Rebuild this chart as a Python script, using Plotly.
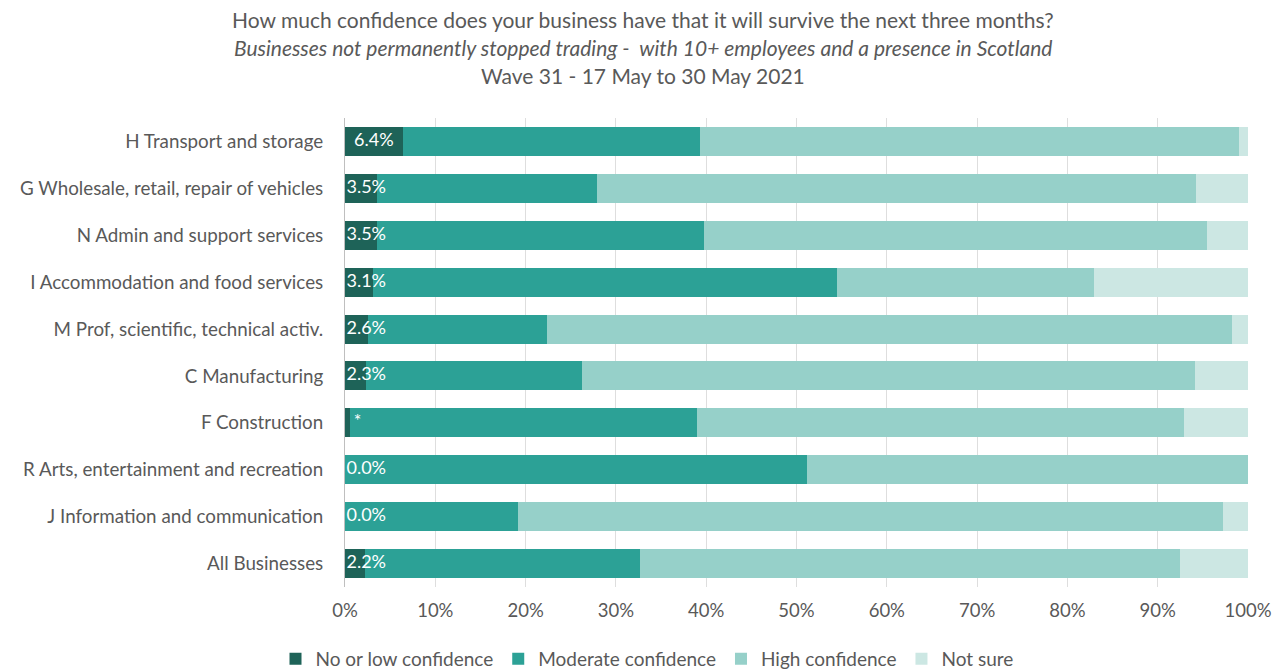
import plotly.graph_objects as go

categories = [
    "H Transport and storage",
    "G Wholesale, retail, repair of vehicles",
    "N Admin and support services",
    "I Accommodation and food services",
    "M Prof, scientific, technical activ.",
    "C Manufacturing",
    "F Construction",
    "R Arts, entertainment and recreation",
    "J Information and communication",
    "All Businesses",
]
no_low = [6.4, 3.5, 3.5, 3.1, 2.6, 2.3, 0.6, 0.0, 0.0, 2.2]
moderate = [32.9, 24.4, 36.3, 51.4, 19.8, 23.9, 38.4, 51.2, 19.2, 30.5]
high = [59.7, 66.3, 55.7, 28.4, 75.8, 67.9, 53.9, 48.8, 78.0, 59.8]
not_sure = [1.0, 5.8, 4.5, 17.1, 1.8, 5.9, 7.1, 0.0, 2.8, 7.5]
no_low_labels = ["6.4%", "3.5%", "3.5%", "3.1%", "2.6%", "2.3%", "*", "0.0%", "0.0%", "2.2%"]

title_lines = [
    "How much confidence does your business have that it will survive the next three months?",
    "<i>Businesses not permanently stopped trading -  with 10+ employees and a presence in Scotland</i>",
    "Wave 31 - 17 May to 30 May 2021",
]

series = [
    ("No or low confidence", no_low, "#1E6358"),
    ("Moderate confidence", moderate, "#2CA196"),
    ("High confidence", high, "#96D0C9"),
    ("Not sure", not_sure, "#CCE7E3"),
]

FONT = "Lato"
GREY = "#595959"

# page has an 8px body margin; work in screen pixels and convert
OFF = 8
W, H = 1281 - OFF, 670 - OFF
SL, SR, ST, SB = 345, 1248, 117.5, 587   # plot area in screen pixels
L, T = SL - OFF, ST - OFF
R = W - (SR - OFF)
B = H - (SB - OFF)
plot_h = SB - ST
plot_w = SR - SL

fig = go.Figure()
for name, vals, col in series:
    fig.add_trace(go.Bar(
        y=categories, x=vals, name=name, orientation="h",
        marker=dict(color=col, line=dict(width=0)),
        hoverinfo="x+name",
    ))

# label positions: centred in the dark segment, but kept clear of the axis
label_x = [max(v / 2, 1.4 if len(t) == 1 else 2.35) for v, t in zip(no_low, no_low_labels)]
fig.add_trace(go.Scatter(
    y=categories, x=label_x, text=no_low_labels,
    mode="text", textposition="middle center",
    textfont=dict(family=FONT, size=18, color="white"),
    showlegend=False, hoverinfo="skip", cliponaxis=False,
))

def py(pix):
    return (SB - pix) / plot_h

def px(pix):
    return (pix - SL) / plot_w

for line, ypix in zip(title_lines, [19, 47, 75]):
    fig.add_annotation(
        text=line, xref="paper", yref="paper", x=px(643), y=py(ypix),
        xanchor="center", yanchor="middle", showarrow=False,
        font=dict(family=FONT, size=21, color=GREY),
    )

fig.update_layout(
    barmode="stack",
    bargap=0.38,
    width=W, height=H,
    paper_bgcolor="white", plot_bgcolor="white",
    font=dict(family=FONT, size=19, color=GREY),
    margin=dict(l=L, r=R, t=T, b=B, autoexpand=False),
    xaxis=dict(
        range=[0, 100], dtick=10, ticksuffix="%",
        showgrid=True, gridcolor="#DEDEDE", gridwidth=1,
        zeroline=False, showline=False, ticks="",
        ticklabelstandoff=10,
        tickfont=dict(family=FONT, size=18.5, color=GREY),
        fixedrange=True,
    ),
    yaxis=dict(
        autorange="reversed", showline=True, linecolor="#BFBFBF", linewidth=1,
        ticks="", ticklabelstandoff=17,
        tickfont=dict(family=FONT, size=18.8, color=GREY),
        fixedrange=True,
    ),
    legend=dict(
        orientation="h", x=px(647), xanchor="center", y=py(659), yanchor="middle",
        font=dict(family=FONT, size=19, color=GREY),
        traceorder="normal", itemwidth=30,
    ),
)

fig.write_html("out.html")
